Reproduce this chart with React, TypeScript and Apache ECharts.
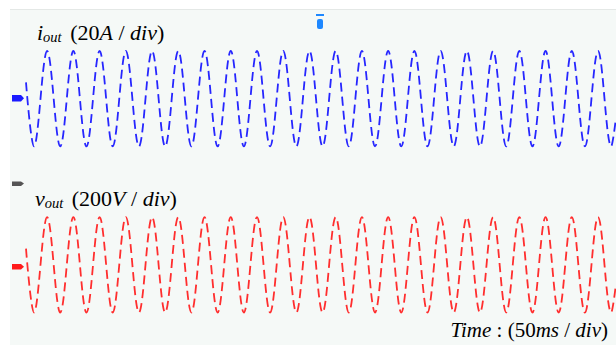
import React, { useEffect, useRef } from 'react';
import * as echarts from 'echarts';

// Time of start point, every trough/peak, and end point (ms), read from the capture
const timeMs = [
  12.2, 18.3, 28.3, 38.3, 48.3, 58.3, 68.3, 78.3, 88.3, 98.3, 108.3, 118.3,
  128.3, 138.3, 148.3, 158.3, 168.3, 178.3, 188.3, 198.3, 208.3, 218.3, 228.3,
  238.3, 248.3, 258.3, 268.3, 278.3, 288.3, 298.3, 308.3, 318.3, 328.3, 338.3,
  348.3, 358.3, 368.3, 378.3, 388.3, 398.3, 408.3, 418.3, 428.3, 438.3, 448.3,
  458.3, 462,
];

// Output current (A) at those instants
const currentA = [
  9.7, -28.4, 28.4, -28.4, 28.4, -28.4, 28.4, -28.4, 28.4, -28.4, 28.4, -28.4,
  28.4, -28.4, 28.4, -28.4, 28.4, -28.4, 28.4, -28.4, 28.4, -28.4, 28.4,
  -28.4, 28.4, -28.4, 28.4, -28.4, 28.4, -28.4, 28.4, -28.4, 28.4, -28.4,
  28.4, -28.4, 28.4, -28.4, 28.4, -28.4, 28.4, -28.4, 28.4, -28.4, 28.4,
  -28.4, -11.3,
];

// Output voltage (V) at those instants
const voltageV = [
  96, -284, 284, -284, 284, -284, 284, -284, 284, -284, 284, -284,
  284, -284, 284, -284, 284, -284, 284, -284, 284, -284, 284,
  -284, 284, -284, 284, -284, 284, -284, 284, -284, 284, -284,
  284, -284, 284, -284, 284, -284, 284, -284, 284, -284, 284,
  -284, -113,
];

const SERIF = "'Liberation Serif', 'Times New Roman', serif";

function makeRich(fs: number, subFs: number) {
  return {
    it: { fontFamily: SERIF, fontSize: fs, fontStyle: 'italic', lineHeight: 24, color: '#000' },
    n: { fontFamily: SERIF, fontSize: fs, fontStyle: 'normal', lineHeight: 24, color: '#000' },
    sub: { fontFamily: SERIF, fontSize: subFs, fontStyle: 'italic', lineHeight: 9, verticalAlign: 'bottom', color: '#000', padding: [0, 3, 0, 0] },
  };
}

export default function App() {
  const ref = useRef<HTMLDivElement>(null);

  useEffect(() => {
    if (!ref.current) return;
    const chart = echarts.init(ref.current, null, { renderer: 'svg' });

    const rich22 = makeRich(22, 14.5);
    const rich21 = makeRich(21, 14);

    chart.setOption({
      animation: false,
      backgroundColor: '#ffffff',
      grid: {
        left: 10, right: 0, top: 9, bottom: 0,
        show: true, backgroundColor: '#f5f9f7', borderWidth: 0,
      },
      xAxis: { type: 'value', min: 0, max: 462, show: false },
      yAxis: [
        { type: 'value', min: -146.65, max: 53.4, show: false },
        { type: 'value', min: -477.5, max: 1523, show: false },
      ],
      series: [
        {
          name: 'iout', type: 'line', yAxisIndex: 0, smooth: 0.36, showSymbol: false,
          data: timeMs.map((t, i) => [t, currentA[i]]),
          lineStyle: { color: '#2626ff', width: 1.8, type: [9, 5] },
        },
        {
          name: 'vout', type: 'line', yAxisIndex: 1, smooth: 0.36, showSymbol: false,
          data: timeMs.map((t, i) => [t, voltageV[i]]),
          lineStyle: { color: '#ff2e2e', width: 1.8, type: [9, 5] },
        },
      ],
      graphic: [
        { type: 'line', shape: { x1: 10, y1: 9.5, x2: 616, y2: 9.5 }, style: { stroke: '#e4e8e6', lineWidth: 1 } },
        { type: 'polygon', shape: { points: [[12, 95], [21, 95], [24, 98.3], [21, 101.5], [12, 101.5]] }, style: { fill: '#1a1aff' } },
        { type: 'polygon', shape: { points: [[12, 181.5], [21, 181.5], [24, 183.5], [21, 186], [12, 186]] }, style: { fill: '#555555' } },
        { type: 'polygon', shape: { points: [[12, 264], [21, 264], [24, 266.8], [21, 269.5], [12, 269.5]] }, style: { fill: '#ff1a1a' } },
        { type: 'rect', shape: { x: 316, y: 14, width: 8, height: 2 }, style: { fill: '#1e88ff' } },
        { type: 'rect', shape: { x: 317, y: 19, width: 6, height: 10, r: 2 }, style: { fill: '#1e88ff' } },
        {
          type: 'text', x: 37, y: 20,
          style: { text: '{it|i}{sub|out}{n| (20}{it|A}{n| / }{it|div}{n|)}', rich: rich22, verticalAlign: 'top', align: 'left' },
        },
        {
          type: 'text', x: 35, y: 186,
          style: { text: '{it|v}{sub|out}{n| (200}{it|V}{n| / }{it|div}{n|)}', rich: rich22, verticalAlign: 'top', align: 'left' },
        },
        {
          type: 'text', x: 608, y: 317.5,
          style: { text: '{it|Time}{n| : (50}{it|ms}{n| / }{it|div}{n|)}', rich: rich21, verticalAlign: 'top', align: 'right' },
        },
      ],
    });

    return () => chart.dispose();
  }, []);

  return <div ref={ref} style={{ position: 'fixed', left: 0, top: 0, width: 616, height: 345 }} />;
}
